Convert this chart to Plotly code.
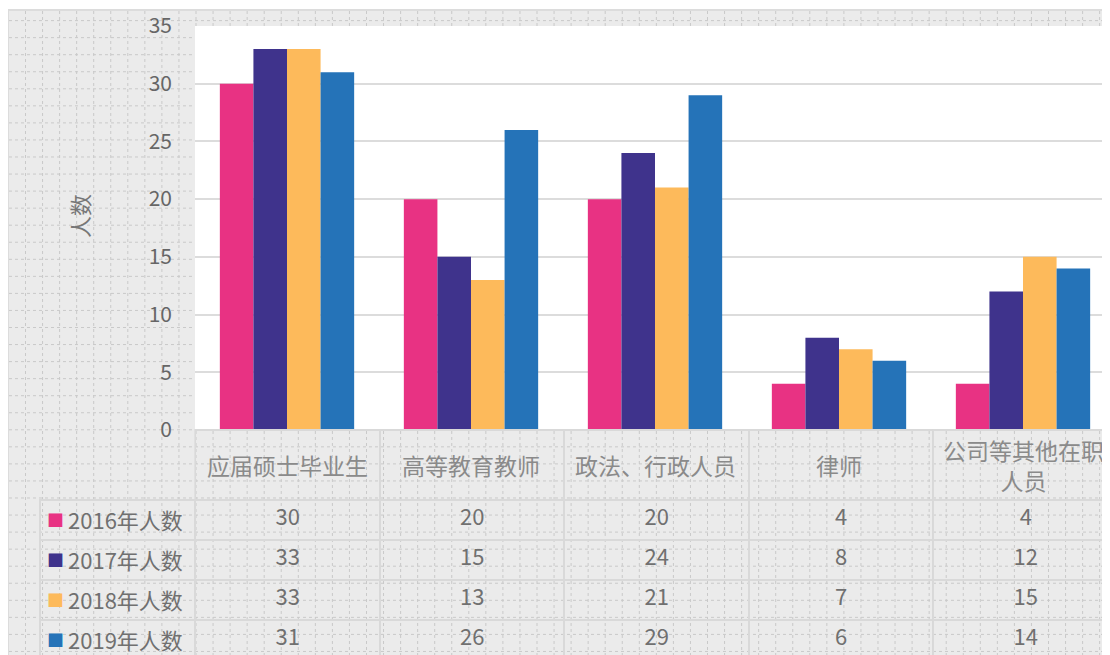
import plotly.graph_objects as go

# ---------------- data ----------------
categories = ["应届硕士毕业生", "高等教育教师", "政法、行政人员", "律师", "公司等其他在职人员"]
category_labels = ["应届硕士毕业生", "高等教育教师", "政法、行政人员", "律师", "公司等其他在职<br>人员"]
series_names = ["2016年人数", "2017年人数", "2018年人数", "2019年人数"]
values_2016 = [30, 20, 20, 4, 4]
values_2017 = [33, 15, 24, 8, 12]
values_2018 = [33, 13, 21, 7, 15]
values_2019 = [31, 26, 29, 6, 14]
y_ticks = [0, 5, 10, 15, 20, 25, 30, 35]
y_title = "人数"

series_values = [values_2016, values_2017, values_2018, values_2019]
colors = ["#E83283", "#3F338C", "#FDBA5B", "#2573B8"]

W, H = 1110, 655
OFF = 8  # page offset of the figure in the browser
FONT = "Noto Sans CJK SC"
BORDER = "#d9d9d9"


def px(x):
    """screen x -> paper fraction"""
    return (x - OFF) / W


def py(y):
    """screen y -> paper fraction"""
    return 1 - (y - OFF) / H


fig = go.Figure()

for name, vals, col in zip(series_names, series_values, colors):
    fig.add_trace(go.Bar(
        x=categories, y=vals, name=name,
        marker=dict(color=col, line=dict(width=0)),
        showlegend=False, hoverinfo="x+y+name",
    ))

# data table below the chart
cell_columns = [[""] * len(series_names)] + [[str(v[i]) for v in series_values]
                                              for i in range(len(categories))]

ROW_H = 40
HEAD_H = 70
TABLE_TOP = 430

fig.add_trace(go.Table(
    domain=dict(x=[px(40), 1], y=[0, py(TABLE_TOP)]),
    columnwidth=[155, 184, 184, 184, 184, 184],
    header=dict(
        values=[""] * 6, height=HEAD_H,
        fill=dict(color="rgba(0,0,0,0)"),
        line=dict(color=["rgba(0,0,0,0)"] + [BORDER] * 5, width=2),
    ),
    cells=dict(
        values=cell_columns, height=ROW_H,
        fill=dict(color="rgba(0,0,0,0)"),
        line=dict(color=BORDER, width=2),
        align=["left"] + ["center"] * 5,
        font=dict(family=FONT, size=22, color="#707070"),
    ),
))

# legend keys + series names in the first table column
for i, (name, col) in enumerate(zip(series_names, colors)):
    yc = py(TABLE_TOP + HEAD_H + ROW_H * i + ROW_H / 2 - 1)
    fig.add_annotation(
        x=px(55), y=yc, xref="paper", yref="paper", xanchor="center", yanchor="middle",
        text="■", showarrow=False,
        font=dict(family=FONT, size=17, color=col),
    )
    fig.add_annotation(
        x=px(66), y=yc, xref="paper", yref="paper", xanchor="left", yanchor="middle",
        text=name, showarrow=False,
        font=dict(family=FONT, size=22, color="#707070"),
    )

# category labels in the table header row
for cat, lab in zip(categories, category_labels):
    fig.add_annotation(
        x=cat, xref="x", y=py(TABLE_TOP + HEAD_H / 2), yref="paper",
        xanchor="center", yanchor="middle",
        text=lab, showarrow=False, align="center",
        font=dict(family=FONT, size=23, color="#8a8a8a"),
    )

fig.add_annotation(
    x=px(79), y=py(216), xref="paper", yref="paper",
    xanchor="center", yanchor="middle",
    text=y_title, textangle=-90, showarrow=False,
    font=dict(family=FONT, size=22, color="#777777"),
)

# background: grey panel with dotted grid
shapes = [dict(type="rect", xref="paper", yref="paper",
               x0=px(8), x1=1.01, y0=-0.01, y1=py(10),
               fillcolor="#ebebeb", line=dict(color="#dcdcdc", width=2), layer="below")]
path = []
step = 17.05
x = 25.5
while x < W + OFF:
    path.append(f"M{px(x):.5f},{py(11):.5f}L{px(x):.5f},0")
    x += step
y = 20.6
while y < H + OFF:
    path.append(f"M{px(9):.5f},{py(y):.5f}L1,{py(y):.5f}")
    y += step
shapes.append(dict(type="path", xref="paper", yref="paper", path="".join(path),
                   line=dict(color="#c9c9c9", width=1, dash="3px,3px"), layer="below"))
shapes.append(dict(type="rect", xref="x domain", yref="y domain", x0=0, x1=1, y0=0, y1=1,
                   fillcolor="white", line=dict(width=0), layer="below"))

fig.update_layout(
    width=W, height=H, autosize=False,
    margin=dict(l=0, r=0, t=0, b=0, autoexpand=False),
    paper_bgcolor="white", plot_bgcolor="white",
    barmode="group", bargap=0.27, bargroupgap=0,
    font=dict(family=FONT, color="#666666"),
    shapes=shapes,
    xaxis=dict(domain=[px(195), px(1115)], showticklabels=False, showgrid=False,
               zeroline=False, showline=False, ticks="", automargin=False),
    yaxis=dict(domain=[py(430), py(26)], range=[0, 35], tickvals=y_ticks,
               showgrid=True, gridcolor="#dcdcdc", gridwidth=2,
               zeroline=False, showline=False, ticks="", automargin=False,
               ticklabelstandoff=22,
               tickfont=dict(family=FONT, size=21, color="#666666")),
)

fig.write_html("out.html")
